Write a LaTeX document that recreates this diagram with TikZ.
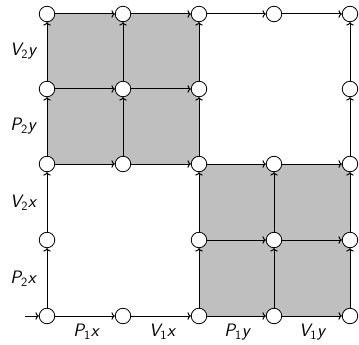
\documentclass[tikz,border=0pt]{standalone}
\usetikzlibrary{arrows.meta}
\begin{document}
\begin{tikzpicture}[x=1pt,y=-1pt,
  vtx/.style={circle,draw,fill=white,minimum size=15.5pt,inner sep=0pt,line width=0.8pt},
  edge/.style={line width=1pt,-{To[length=3.4pt,width=7.5pt]}},
  lab/.style={font=\fontsize{18}{20}\selectfont\sffamily\slshape,inner sep=0pt},
  shade/.style={fill=black!25,draw=none}]
\useasboundingbox (0,0) rectangle (359,345);
\def\xa{47}\def\xb{123}\def\xc{199}\def\xd{274}\def\xe{350}
\def\ya{14}\def\yb{89}\def\yc{164}\def\yd{240}\def\ye{316}
\fill[shade] (\xa,\ya) rectangle (\xc,\yc);
\fill[shade] (\xc,\yc) rectangle (\xe,\ye);
\foreach \i/\x in {0/\xa,1/\xb,2/\xc,3/\xd,4/\xe}{
  \foreach \j/\y in {0/\ya,1/\yb,2/\yc,3/\yd,4/\ye}{
    \coordinate (p\i\j) at (\x,\y);
  }
}
% nodes that exist
\foreach \n in {00,10,20,30,40, 01,11,21,41, 02,12,22,32,42, 03,23,33,43, 04,14,24,34,44}{
  \node[vtx] (n\n) at (p\n) {};
}
\coordinate (entry) at (25,\ye);
% horizontal edges
\draw[edge] (entry) -- (n04);
\foreach \a/\b in {00/10,10/20,20/30,30/40, 01/11,11/21, 02/12,12/22,22/32,32/42, 23/33,33/43, 04/14,14/24,24/34,34/44}{
  \draw[edge] (n\a) -- (n\b);
}
% vertical edges
\foreach \a/\b in {04/03,03/02,02/01,01/00, 12/11,11/10, 24/23,23/22,22/21,21/20, 34/33,33/32, 44/43,43/42,42/41,41/40}{
  \draw[edge] (n\a) -- (n\b);
}
% labels
\node[lab] (l1) at (23,51) {V\textsubscript{\upshape 2}y};
\node[lab] (l2) at (23,126) {P\textsubscript{\upshape 2}y};
\node[lab] (l3) at (23,203) {V\textsubscript{\upshape 2}x};
\node[lab] (l4) at (23,279) {P\textsubscript{\upshape 2}x};
\node[lab] (l5) at (86,332) {P\textsubscript{\upshape 1}x};
\node[lab] (l6) at (162,332) {V\textsubscript{\upshape 1}x};
\node[lab] (l7) at (237,332) {P\textsubscript{\upshape 1}y};
\node[lab] (l8) at (312,332) {V\textsubscript{\upshape 1}y};
\end{tikzpicture}
\end{document}
